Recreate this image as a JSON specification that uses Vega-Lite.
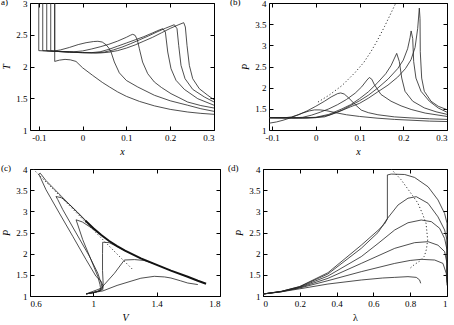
{
"$schema": "https://vega.github.io/schema/vega-lite/v6.json",
"padding": {"left": 0, "top": -3, "right": 0, "bottom": 0},
"config": {
  "font": "Liberation Serif",
  "view": {"stroke": "#000", "strokeWidth": 1},
  "axis": {"grid": false, "domain": false, "tickColor": "#000", "tickSize": -4, "labelPadding": 7, "labelOverlap": false, "labelFont": "Liberation Serif", "labelFontSize": 9, "labelColor": "#000", "titleFont": "Liberation Serif", "titleFontSize": 10, "titleFontWeight": "normal", "titleFontStyle": "italic", "titleColor": "#000"},
  "axisX": {"titlePadding": 4},
  "axisY": {"titlePadding": 4},
  "title": {"font": "Liberation Serif", "fontSize": 9, "fontWeight": "normal", "color": "#000", "anchor": "start", "frame": "group", "offset": 0, "baseline": "top", "dy": 12},
  "line": {"color": "#222", "strokeWidth": 0.8, "clip": true}
},
"datasets": {
  "a": [
    {"c":1,"x":-0.0636,"y":3},{"c":1,"x":-0.0636,"y":2.08},{"c":1,"x":-0.053,"y":2.1},{"c":1,"x":-0.04,"y":2.112},{"c":1,"x":-0.028,"y":2.105},{"c":1,"x":-0.015,"y":2.08},{"c":1,"x":0,"y":1.98},{"c":1,"x":0.023,"y":1.86},{"c":1,"x":0.045,"y":1.75},{"c":1,"x":0.061,"y":1.68},{"c":1,"x":0.08,"y":1.6},{"c":1,"x":0.1,"y":1.53},{"c":1,"x":0.13,"y":1.45},{"c":1,"x":0.164,"y":1.38},{"c":1,"x":0.2,"y":1.325},{"c":1,"x":0.24,"y":1.283},{"c":1,"x":0.27,"y":1.262},{"c":1,"x":0.3,"y":1.247},
    {"c":2,"x":-0.0636,"y":3},{"c":2,"x":-0.0636,"y":2.245},{"c":2,"x":-0.05,"y":2.262},{"c":2,"x":-0.03,"y":2.3},{"c":2,"x":-0.01,"y":2.345},{"c":2,"x":0.008,"y":2.375},{"c":2,"x":0.025,"y":2.393},{"c":2,"x":0.035,"y":2.397},{"c":2,"x":0.045,"y":2.385},{"c":2,"x":0.0535,"y":2.343},{"c":2,"x":0.06,"y":2.29},{"c":2,"x":0.065,"y":2.228},{"c":2,"x":0.0725,"y":2.071},{"c":2,"x":0.0839,"y":1.9},{"c":2,"x":0.1,"y":1.78},{"c":2,"x":0.126,"y":1.677},{"c":2,"x":0.164,"y":1.547},{"c":2,"x":0.2,"y":1.46},{"c":2,"x":0.24,"y":1.39},{"c":2,"x":0.27,"y":1.335},{"c":2,"x":0.3,"y":1.294},
    {"c":3,"x":-0.0727,"y":3},{"c":3,"x":-0.0727,"y":2.248},{"c":3,"x":-0.06,"y":2.24},{"c":3,"x":-0.04,"y":2.235},{"c":3,"x":-0.02,"y":2.232},{"c":3,"x":0,"y":2.245},{"c":3,"x":0.02,"y":2.275},{"c":3,"x":0.04,"y":2.31},{"c":3,"x":0.06,"y":2.35},{"c":3,"x":0.08,"y":2.4},{"c":3,"x":0.1,"y":2.46},{"c":3,"x":0.11,"y":2.495},{"c":3,"x":0.1145,"y":2.507},{"c":3,"x":0.12,"y":2.49},{"c":3,"x":0.125,"y":2.42},{"c":3,"x":0.1296,"y":2.28},{"c":3,"x":0.137,"y":2.07},{"c":3,"x":0.1487,"y":1.887},{"c":3,"x":0.1638,"y":1.756},{"c":3,"x":0.18,"y":1.67},{"c":3,"x":0.2019,"y":1.572},{"c":3,"x":0.22,"y":1.51},{"c":3,"x":0.24,"y":1.44},{"c":3,"x":0.27,"y":1.385},{"c":3,"x":0.3,"y":1.346},
    {"c":4,"x":-0.0818,"y":3},{"c":4,"x":-0.0818,"y":2.248},{"c":4,"x":-0.06,"y":2.238},{"c":4,"x":-0.03,"y":2.228},{"c":4,"x":0,"y":2.22},{"c":4,"x":0.02,"y":2.218},{"c":4,"x":0.04,"y":2.232},{"c":4,"x":0.06,"y":2.27},{"c":4,"x":0.08,"y":2.32},{"c":4,"x":0.1,"y":2.37},{"c":4,"x":0.12,"y":2.42},{"c":4,"x":0.14,"y":2.47},{"c":4,"x":0.16,"y":2.53},{"c":4,"x":0.175,"y":2.575},{"c":4,"x":0.183,"y":2.595},{"c":4,"x":0.189,"y":2.543},{"c":4,"x":0.1944,"y":2.228},{"c":4,"x":0.2019,"y":1.965},{"c":4,"x":0.2133,"y":1.782},{"c":4,"x":0.2323,"y":1.64},{"c":4,"x":0.2629,"y":1.493},{"c":4,"x":0.3,"y":1.39},
    {"c":5,"x":-0.0909,"y":3},{"c":5,"x":-0.0909,"y":2.25},{"c":5,"x":-0.06,"y":2.238},{"c":5,"x":-0.03,"y":2.226},{"c":5,"x":0,"y":2.218},{"c":5,"x":0.03,"y":2.214},{"c":5,"x":0.05,"y":2.228},{"c":5,"x":0.07,"y":2.26},{"c":5,"x":0.09,"y":2.305},{"c":5,"x":0.11,"y":2.36},{"c":5,"x":0.13,"y":2.42},{"c":5,"x":0.15,"y":2.48},{"c":5,"x":0.17,"y":2.545},{"c":5,"x":0.19,"y":2.605},{"c":5,"x":0.2094,"y":2.658},{"c":5,"x":0.2156,"y":2.595},{"c":5,"x":0.2194,"y":2.333},{"c":5,"x":0.2247,"y":2.018},{"c":5,"x":0.2339,"y":1.808},{"c":5,"x":0.2514,"y":1.64},{"c":5,"x":0.278,"y":1.52},{"c":5,"x":0.3,"y":1.441},
    {"c":6,"x":-0.1,"y":3},{"c":6,"x":-0.1,"y":2.25},{"c":6,"x":-0.06,"y":2.238},{"c":6,"x":-0.03,"y":2.226},{"c":6,"x":0,"y":2.217},{"c":6,"x":0.04,"y":2.213},{"c":6,"x":0.06,"y":2.225},{"c":6,"x":0.08,"y":2.25},{"c":6,"x":0.1,"y":2.29},{"c":6,"x":0.12,"y":2.34},{"c":6,"x":0.14,"y":2.4},{"c":6,"x":0.16,"y":2.46},{"c":6,"x":0.18,"y":2.53},{"c":6,"x":0.2,"y":2.6},{"c":6,"x":0.22,"y":2.66},{"c":6,"x":0.2309,"y":2.69},{"c":6,"x":0.2346,"y":2.622},{"c":6,"x":0.2384,"y":2.333},{"c":6,"x":0.2437,"y":2.018},{"c":6,"x":0.2514,"y":1.808},{"c":6,"x":0.2665,"y":1.65},{"c":6,"x":0.2857,"y":1.547},{"c":6,"x":0.3,"y":1.477}
  ],
  "b": [
    {"c":1,"x":-0.107,"y":1.16},{"c":1,"x":-0.09,"y":1.19},{"c":1,"x":-0.075,"y":1.23},{"c":1,"x":-0.06,"y":1.28},{"c":1,"x":-0.045,"y":1.34},{"c":1,"x":-0.03,"y":1.4},{"c":1,"x":-0.015,"y":1.45},{"c":1,"x":-0.003,"y":1.475},{"c":1,"x":0.01,"y":1.475},{"c":1,"x":0.025,"y":1.455},{"c":1,"x":0.045,"y":1.41},{"c":1,"x":0.07,"y":1.36},{"c":1,"x":0.1,"y":1.32},{"c":1,"x":0.14,"y":1.28},{"c":1,"x":0.18,"y":1.25},{"c":1,"x":0.22,"y":1.23},{"c":1,"x":0.26,"y":1.21},{"c":1,"x":0.3,"y":1.2},
    {"c":2,"x":-0.107,"y":1.29},{"c":2,"x":-0.07,"y":1.29},{"c":2,"x":-0.055,"y":1.31},{"c":2,"x":-0.04,"y":1.36},{"c":2,"x":-0.02,"y":1.45},{"c":2,"x":0,"y":1.56},{"c":2,"x":0.02,"y":1.68},{"c":2,"x":0.035,"y":1.78},{"c":2,"x":0.05,"y":1.86},{"c":2,"x":0.057,"y":1.875},{"c":2,"x":0.065,"y":1.85},{"c":2,"x":0.075,"y":1.76},{"c":2,"x":0.09,"y":1.6},{"c":2,"x":0.104,"y":1.47},{"c":2,"x":0.12,"y":1.41},{"c":2,"x":0.142,"y":1.36},{"c":2,"x":0.18,"y":1.31},{"c":2,"x":0.218,"y":1.285},{"c":2,"x":0.26,"y":1.265},{"c":2,"x":0.3,"y":1.25},
    {"c":3,"x":-0.107,"y":1.29},{"c":3,"x":-0.05,"y":1.288},{"c":3,"x":-0.03,"y":1.3},{"c":3,"x":-0.01,"y":1.35},{"c":3,"x":0.01,"y":1.42},{"c":3,"x":0.03,"y":1.5},{"c":3,"x":0.05,"y":1.6},{"c":3,"x":0.07,"y":1.72},{"c":3,"x":0.09,"y":1.87},{"c":3,"x":0.105,"y":2.02},{"c":3,"x":0.117,"y":2.18},{"c":3,"x":0.1224,"y":2.24},{"c":3,"x":0.128,"y":2.2},{"c":3,"x":0.134,"y":2.07},{"c":3,"x":0.149,"y":1.84},{"c":3,"x":0.172,"y":1.68},{"c":3,"x":0.195,"y":1.57},{"c":3,"x":0.218,"y":1.485},{"c":3,"x":0.25,"y":1.4},{"c":3,"x":0.3,"y":1.32},
    {"c":4,"x":-0.107,"y":1.29},{"c":4,"x":-0.04,"y":1.285},{"c":4,"x":0,"y":1.3},{"c":4,"x":0.03,"y":1.37},{"c":4,"x":0.06,"y":1.5},{"c":4,"x":0.08,"y":1.6},{"c":4,"x":0.1,"y":1.74},{"c":4,"x":0.12,"y":1.9},{"c":4,"x":0.1416,"y":2.12},{"c":4,"x":0.16,"y":2.33},{"c":4,"x":0.172,"y":2.52},{"c":4,"x":0.18,"y":2.7},{"c":4,"x":0.185,"y":2.81},{"c":4,"x":0.191,"y":2.617},{"c":4,"x":0.1965,"y":2.226},{"c":4,"x":0.204,"y":1.914},{"c":4,"x":0.2216,"y":1.68},{"c":4,"x":0.248,"y":1.523},{"c":4,"x":0.275,"y":1.43},{"c":4,"x":0.3,"y":1.37},
    {"c":5,"x":-0.107,"y":1.29},{"c":5,"x":-0.03,"y":1.283},{"c":5,"x":0,"y":1.29},{"c":5,"x":0.03,"y":1.35},{"c":5,"x":0.06,"y":1.47},{"c":5,"x":0.08,"y":1.58},{"c":5,"x":0.1,"y":1.69},{"c":5,"x":0.12,"y":1.82},{"c":5,"x":0.1416,"y":1.99},{"c":5,"x":0.165,"y":2.2},{"c":5,"x":0.1873,"y":2.45},{"c":5,"x":0.2,"y":2.65},{"c":5,"x":0.21,"y":2.92},{"c":5,"x":0.2155,"y":3.18},{"c":5,"x":0.218,"y":3.34},{"c":5,"x":0.2216,"y":3.16},{"c":5,"x":0.2238,"y":2.617},{"c":5,"x":0.229,"y":2.226},{"c":5,"x":0.2406,"y":1.914},{"c":5,"x":0.2596,"y":1.68},{"c":5,"x":0.28,"y":1.52},{"c":5,"x":0.3,"y":1.42},
    {"c":6,"x":-0.107,"y":1.29},{"c":6,"x":-0.02,"y":1.283},{"c":6,"x":0.02,"y":1.31},{"c":6,"x":0.05,"y":1.42},{"c":6,"x":0.08,"y":1.55},{"c":6,"x":0.1,"y":1.63},{"c":6,"x":0.12,"y":1.75},{"c":6,"x":0.1416,"y":1.9},{"c":6,"x":0.165,"y":2.06},{"c":6,"x":0.1873,"y":2.25},{"c":6,"x":0.205,"y":2.45},{"c":6,"x":0.2177,"y":2.66},{"c":6,"x":0.227,"y":2.95},{"c":6,"x":0.233,"y":3.4},{"c":6,"x":0.2367,"y":3.88},{"c":6,"x":0.2383,"y":3.63},{"c":6,"x":0.2389,"y":2.85},{"c":6,"x":0.2421,"y":2.226},{"c":6,"x":0.2481,"y":1.914},{"c":6,"x":0.2634,"y":1.68},{"c":6,"x":0.28,"y":1.56},{"c":6,"x":0.3,"y":1.48}
  ],
  "bdot": [
    {"x":0.005,"y":1.66},{"x":0.03,"y":1.82},{"x":0.06,"y":2.05},{"x":0.09,"y":2.36},{"x":0.11,"y":2.6},{"x":0.126,"y":2.85},{"x":0.14,"y":3.1},{"x":0.157,"y":3.44},{"x":0.17,"y":3.72},{"x":0.183,"y":4.0}
  ],
  "c": [
    {"c":1,"x":0.955,"y":1.05},{"c":1,"x":1.06,"y":1.12},{"c":1,"x":1.15,"y":1.25},{"c":1,"x":1.238,"y":1.35},{"c":1,"x":1.3,"y":1.42},{"c":1,"x":1.385,"y":1.465},{"c":1,"x":1.45,"y":1.45},{"c":1,"x":1.49,"y":1.425},{"c":1,"x":1.55,"y":1.36},{"c":1,"x":1.596,"y":1.307},{"c":1,"x":1.66,"y":1.27},
    {"c":2,"x":0.955,"y":1.05},{"c":2,"x":1.048,"y":1.18},{"c":2,"x":1.133,"y":1.535},{"c":2,"x":1.196,"y":1.85},{"c":2,"x":1.26,"y":1.86},{"c":2,"x":1.32,"y":1.84},{"c":2,"x":1.385,"y":1.76},
    {"c":3,"x":0.955,"y":1.05},{"c":3,"x":1.02,"y":1.1},{"c":3,"x":1.06,"y":1.15},{"c":3,"x":1.062,"y":1.3},{"c":3,"x":1.058,"y":1.6},{"c":3,"x":1.058,"y":2.0},{"c":3,"x":1.059,"y":2.27},{"c":3,"x":1.1,"y":2.26},{"c":3,"x":1.15,"y":2.17},{"c":3,"x":1.2,"y":2.07},
    {"c":4,"x":0.955,"y":1.05},{"c":4,"x":1.0,"y":1.08},{"c":4,"x":1.04,"y":1.13},{"c":4,"x":1.045,"y":1.2},{"c":4,"x":1.042,"y":1.27},{"c":4,"x":1.028,"y":1.465},{"c":4,"x":0.985,"y":1.86},{"c":4,"x":0.933,"y":2.33},{"c":4,"x":0.9,"y":2.7},{"c":4,"x":0.891,"y":2.8},{"c":4,"x":0.93,"y":2.75},{"c":4,"x":1.0,"y":2.58},{"c":4,"x":1.05,"y":2.44},
    {"c":5,"x":0.955,"y":1.05},{"c":5,"x":1.0,"y":1.08},{"c":5,"x":1.04,"y":1.12},{"c":5,"x":1.055,"y":1.2},{"c":5,"x":1.049,"y":1.31},{"c":5,"x":1.028,"y":1.54},{"c":5,"x":0.975,"y":1.94},{"c":5,"x":0.891,"y":2.49},{"c":5,"x":0.807,"y":3.04},{"c":5,"x":0.775,"y":3.28},{"c":5,"x":0.764,"y":3.35},{"c":5,"x":0.8,"y":3.32},{"c":5,"x":0.85,"y":3.16},{"c":5,"x":0.9,"y":2.98},{"c":5,"x":0.95,"y":2.79},{"c":5,"x":1.0,"y":2.6},
    {"c":6,"x":0.955,"y":1.05},{"c":6,"x":1.0,"y":1.08},{"c":6,"x":1.04,"y":1.12},{"c":6,"x":1.058,"y":1.18},{"c":6,"x":1.06,"y":1.25},{"c":6,"x":1.049,"y":1.35},{"c":6,"x":1.017,"y":1.465},{"c":6,"x":0.954,"y":1.86},{"c":6,"x":0.87,"y":2.41},{"c":6,"x":0.785,"y":2.96},{"c":6,"x":0.701,"y":3.51},{"c":6,"x":0.668,"y":3.78},{"c":6,"x":0.655,"y":3.88},{"c":6,"x":0.665,"y":3.9},{"c":6,"x":0.7,"y":3.73},{"c":6,"x":0.75,"y":3.54},{"c":6,"x":0.8,"y":3.35},{"c":6,"x":0.85,"y":3.16},{"c":6,"x":0.9,"y":2.97},{"c":6,"x":0.95,"y":2.78}
  ],
  "cenv": [
    {"x":0.95,"y":2.78},{"x":1.0,"y":2.6},{"x":1.05,"y":2.44},{"x":1.1,"y":2.3},{"x":1.15,"y":2.18},{"x":1.2,"y":2.07},{"x":1.3,"y":1.89},{"x":1.385,"y":1.76},{"x":1.49,"y":1.6},{"x":1.596,"y":1.455},{"x":1.66,"y":1.36},{"x":1.712,"y":1.29}
  ],
  "cdot": [
    {"x":0.62,"y":4.0},{"x":0.8,"y":3.32},{"x":1.0,"y":2.56},{"x":1.15,"y":1.99},{"x":1.245,"y":1.64}
  ],
  "d": [
    {"c":1,"x":0,"y":1.047},{"c":1,"x":0.1,"y":1.1},{"c":1,"x":0.2,"y":1.17},{"c":1,"x":0.353,"y":1.283},{"c":1,"x":0.534,"y":1.378},{"c":1,"x":0.65,"y":1.425},{"c":1,"x":0.716,"y":1.44},{"c":1,"x":0.788,"y":1.457},{"c":1,"x":0.833,"y":1.44},{"c":1,"x":0.851,"y":1.38},{"c":1,"x":0.857,"y":1.3},
    {"c":2,"x":0,"y":1.047},{"c":2,"x":0.1,"y":1.1},{"c":2,"x":0.2,"y":1.19},{"c":2,"x":0.353,"y":1.362},{"c":2,"x":0.534,"y":1.575},{"c":2,"x":0.716,"y":1.77},{"c":2,"x":0.8,"y":1.84},{"c":2,"x":0.86,"y":1.866},{"c":2,"x":0.933,"y":1.85},{"c":2,"x":0.978,"y":1.77},{"c":2,"x":0.996,"y":1.535},{"c":2,"x":1.0,"y":1.25},
    {"c":3,"x":0,"y":1.047},{"c":3,"x":0.1,"y":1.105},{"c":3,"x":0.2,"y":1.2},{"c":3,"x":0.353,"y":1.417},{"c":3,"x":0.534,"y":1.77},{"c":3,"x":0.716,"y":2.126},{"c":3,"x":0.824,"y":2.26},{"c":3,"x":0.897,"y":2.283},{"c":3,"x":0.951,"y":2.2},{"c":3,"x":0.987,"y":2.05},{"c":3,"x":1.0,"y":1.77},{"c":3,"x":1.0,"y":1.32},
    {"c":4,"x":0,"y":1.047},{"c":4,"x":0.1,"y":1.105},{"c":4,"x":0.2,"y":1.21},{"c":4,"x":0.353,"y":1.472},{"c":4,"x":0.534,"y":1.93},{"c":4,"x":0.625,"y":2.24},{"c":4,"x":0.716,"y":2.56},{"c":4,"x":0.788,"y":2.73},{"c":4,"x":0.86,"y":2.795},{"c":4,"x":0.915,"y":2.756},{"c":4,"x":0.96,"y":2.6},{"c":4,"x":0.987,"y":2.36},{"c":4,"x":1.0,"y":2.09},{"c":4,"x":1.0,"y":1.37},
    {"c":5,"x":0,"y":1.047},{"c":5,"x":0.1,"y":1.11},{"c":5,"x":0.2,"y":1.22},{"c":5,"x":0.353,"y":1.52},{"c":5,"x":0.534,"y":2.126},{"c":5,"x":0.625,"y":2.5},{"c":5,"x":0.676,"y":2.83},{"c":5,"x":0.734,"y":3.15},{"c":5,"x":0.788,"y":3.31},{"c":5,"x":0.833,"y":3.346},{"c":5,"x":0.897,"y":3.19},{"c":5,"x":0.951,"y":2.87},{"c":5,"x":0.987,"y":2.56},{"c":5,"x":1.0,"y":2.32},{"c":5,"x":1.0,"y":1.42},
    {"c":6,"x":0,"y":1.047},{"c":6,"x":0.1,"y":1.11},{"c":6,"x":0.2,"y":1.225},{"c":6,"x":0.353,"y":1.55},{"c":6,"x":0.534,"y":2.2},{"c":6,"x":0.625,"y":2.55},{"c":6,"x":0.66,"y":2.7},{"c":6,"x":0.676,"y":2.82},{"c":6,"x":0.676,"y":3.86},{"c":6,"x":0.697,"y":3.88},{"c":6,"x":0.77,"y":3.87},{"c":6,"x":0.824,"y":3.8},{"c":6,"x":0.897,"y":3.58},{"c":6,"x":0.951,"y":3.27},{"c":6,"x":0.987,"y":2.95},{"c":6,"x":1.0,"y":2.72},{"c":6,"x":1.0,"y":1.48}
  ],
  "ddot": [
    {"x":0.696,"y":4.0},{"x":0.75,"y":3.75},{"x":0.8,"y":3.45},{"x":0.841,"y":3.2},{"x":0.866,"y":2.95},{"x":0.886,"y":2.72},{"x":0.895,"y":2.33},{"x":0.888,"y":2.1},{"x":0.877,"y":1.94},{"x":0.85,"y":1.82},{"x":0.822,"y":1.74},{"x":0.795,"y":1.64}
  ]
},
"spacing": 6,
"vconcat": [
  {
    "bounds": "flush",
    "spacing": 55,
    "hconcat": [
      {
        "width": 184, "height": 127,
        "title": {"text": "a)", "dx": -29},
        "resolve": {"axis": {"x": "independent", "y": "independent"}},
        "layer": [
          {"data": {"name": "a"}, "mark": {"type": "line"},
           "encoding": {
             "x": {"field": "x", "type": "quantitative", "scale": {"domain": [-0.12, 0.3], "nice": false, "zero": false}, "axis": {"title": "x", "values": [-0.1, 0, 0.1, 0.2, 0.3], "format": "~g", "labelOverlap": false, "labelExpr": "replace(datum.label, '−', '-')"}},
             "y": {"field": "y", "type": "quantitative", "scale": {"domain": [1, 3], "nice": false, "zero": false}, "axis": {"title": "T", "values": [1, 1.5, 2, 2.5, 3], "format": "~g", "labelOverlap": false}},
             "detail": {"field": "c"},
             "order": {"value": null}
           }},
          {"data": {"name": "a"}, "mark": {"type": "line", "opacity": 0},
           "encoding": {
             "x": {"field": "x", "type": "quantitative", "axis": {"orient": "top", "labels": false, "title": null, "values": [-0.1, 0, 0.1, 0.2, 0.3]}},
             "y": {"field": "y", "type": "quantitative", "axis": {"orient": "right", "labels": false, "title": null, "values": [1, 1.5, 2, 2.5, 3]}},
             "detail": {"field": "c"},
             "order": {"value": null}
           }}
        ]
      },
      {
        "width": 178, "height": 127,
        "title": {"text": "(b)", "dx": -39},
        "resolve": {"axis": {"x": "independent", "y": "independent"}},
        "layer": [
          {"data": {"name": "b"}, "mark": {"type": "line"},
           "encoding": {
             "x": {"field": "x", "type": "quantitative", "scale": {"domain": [-0.107, 0.3], "nice": false, "zero": false}, "axis": {"title": "x", "values": [-0.1, 0, 0.1, 0.2, 0.3], "format": "~g", "labelOverlap": false, "labelExpr": "replace(datum.label, '−', '-')"}},
             "y": {"field": "y", "type": "quantitative", "scale": {"domain": [1, 4], "nice": false, "zero": false}, "axis": {"title": "P", "values": [1, 1.5, 2, 2.5, 3, 3.5, 4], "format": "~g", "labelOverlap": false}},
             "detail": {"field": "c"},
             "order": {"value": null}
           }},
          {"data": {"name": "bdot"}, "mark": {"type": "line", "strokeDash": [1.2, 2.2], "strokeWidth": 0.9},
           "encoding": {
             "x": {"field": "x", "type": "quantitative", "axis": {"orient": "top", "labels": false, "title": null, "values": [-0.1, 0, 0.1, 0.2, 0.3]}},
             "y": {"field": "y", "type": "quantitative", "axis": {"orient": "right", "labels": false, "title": null, "values": [1, 1.5, 2, 2.5, 3, 3.5, 4]}},
             "order": {"value": null}
           }}
        ]
      }
    ]
  },
  {
    "bounds": "flush",
    "spacing": 43,
    "hconcat": [
      {
        "width": 190, "height": 127,
        "title": {"text": "(c)", "dx": -29},
        "resolve": {"axis": {"x": "independent", "y": "independent"}},
        "layer": [
          {"data": {"name": "c"}, "mark": {"type": "line"},
           "encoding": {
             "x": {"field": "x", "type": "quantitative", "scale": {"domain": [0.6, 1.8], "nice": false, "zero": false}, "axis": {"title": "V", "values": [0.6, 1, 1.4, 1.8], "format": "~g", "labelOverlap": false}},
             "y": {"field": "y", "type": "quantitative", "scale": {"domain": [1, 4], "nice": false, "zero": false}, "axis": {"title": "P", "values": [1, 1.5, 2, 2.5, 3, 3.5, 4], "format": "~g", "labelOverlap": false}},
             "detail": {"field": "c"},
             "order": {"value": null}
           }},
          {"data": {"name": "cenv"}, "mark": {"type": "line", "strokeWidth": 2, "color": "#111"},
           "encoding": {
             "x": {"field": "x", "type": "quantitative", "axis": {"orient": "top", "labels": false, "title": null, "values": [0.6, 1, 1.4, 1.8]}},
             "y": {"field": "y", "type": "quantitative", "axis": {"orient": "right", "labels": false, "title": null, "values": [1, 1.5, 2, 2.5, 3, 3.5, 4]}},
             "order": {"value": null}
           }},
          {"data": {"name": "cdot"}, "mark": {"type": "line", "strokeDash": [1.2, 2.2], "strokeWidth": 0.9},
           "encoding": {
             "x": {"field": "x", "type": "quantitative", "axis": null},
             "y": {"field": "y", "type": "quantitative", "axis": null},
             "order": {"value": null}
           }}
        ]
      },
      {
        "width": 184, "height": 127,
        "title": {"text": "(d)", "dx": -35},
        "resolve": {"axis": {"x": "independent", "y": "independent"}},
        "layer": [
          {"data": {"name": "d"}, "mark": {"type": "line"},
           "encoding": {
             "x": {"field": "x", "type": "quantitative", "scale": {"domain": [0, 1], "nice": false, "zero": false}, "axis": {"title": "λ", "titleFontStyle": "normal", "values": [0, 0.2, 0.4, 0.6, 0.8, 1], "format": "~g", "labelOverlap": false}},
             "y": {"field": "y", "type": "quantitative", "scale": {"domain": [1, 4], "nice": false, "zero": false}, "axis": {"title": "P", "values": [1, 1.5, 2, 2.5, 3, 3.5, 4], "format": "~g", "labelOverlap": false}},
             "detail": {"field": "c"},
             "order": {"value": null}
           }},
          {"data": {"name": "ddot"}, "mark": {"type": "line", "strokeDash": [1.2, 2.2], "strokeWidth": 0.9},
           "encoding": {
             "x": {"field": "x", "type": "quantitative", "axis": {"orient": "top", "labels": false, "title": null, "values": [0, 0.2, 0.4, 0.6, 0.8, 1]}},
             "y": {"field": "y", "type": "quantitative", "axis": {"orient": "right", "labels": false, "title": null, "values": [1, 1.5, 2, 2.5, 3, 3.5, 4]}},
             "order": {"value": null}
           }}
        ]
      }
    ]
  }
]
}
